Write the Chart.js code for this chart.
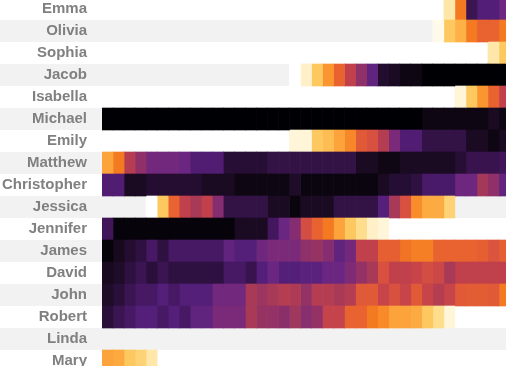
<!DOCTYPE html>
<html>
<head>
<meta charset="utf-8">
<script src="https://cdn.jsdelivr.net/npm/chart.js@4"></script>
<style>
  html, body { margin: 0; padding: 0; overflow: hidden; background: #ffffff; width: 506px; height: 366px; }
  #wrap { position: absolute; left: 0; top: -2px; width: 510px; height: 374px; }
</style>
</head>
<body>
<div id="wrap"><canvas id="c"></canvas></div>
<script>
// ---------------- data ----------------
const names = ["Emma","Olivia","Sophia","Jacob","Isabella","Michael","Emily","Matthew",
  "Christopher","Jessica","Jennifer","James","David","John","Robert","Linda","Mary"];

const years = [1970,1971,1972,1973,1974,1975,1976,1977,1978,1979,1980,1981,1982,1983,1984,
  1985,1986,1987,1988,1989,1990,1991,1992,1993,1994,1995,1996,1997,1998,1999,2000,2001,
  2002,2003,2004,2005,2006];

// first year with a shaded cell, per name
const firstYear = [2001,2000,2005,1987,2002,1970,1987,1970,1970,1974,1970,1970,1970,1970,1970,1970,1970];

// shade value per year (1 = darkest / top, larger = lighter)
const emma = [19.5, 15, 5, 6.7, 6.7, 8.2];
const olivia = [21, 18, 17, 15, 14, 14, 15];
const sophia = [19.5, 18];
const jacob = [22, 20, 18, 16, 14, 12, 10, 7.5, 3.5, 3, 2, 2, 1, 1, 1, 1, 1, 1, 1, 1];
const isabella = [20.5, 18, 16, 14, 12];
const michael = [1, 1, 1, 1, 1, 1, 1, 1, 1, 1, 1, 1, 1, 1, 1, 1, 1, 1, 1, 1, 1, 1, 1, 1, 1, 1, 1, 1, 1,
  2, 2, 2, 2, 2, 2, 3, 2];
const emily = [20.5, 20.5, 18, 17.5, 16.5, 15.5, 13.5, 13, 11.5, 9, 6.5, 6.5, 4.5, 4.5, 4.5, 4.5, 3, 3, 2, 3];
const matthew = [16.5, 15, 11.5, 10, 8.5, 8.5, 8.5, 8, 6.5, 6.5, 6.5, 3.8, 3.8, 3.8, 3.8, 4.5, 4.5, 4.5,
  4.5, 4.5, 4.5, 4.5, 4.5, 3, 3, 2.2, 2.2, 3, 3, 3, 3, 3, 3.8, 4.8, 4.8, 4.8, 5.3];
const christopher = [6.5, 6.5, 3, 3, 3.6, 3.6, 3.6, 3.6, 3.6, 3, 3, 3, 2, 2, 2, 2, 2, 3.3, 1.8, 1.8, 1.8,
  1.8, 1.8, 1.8, 1.8, 3, 3.7, 3.7, 4.3, 6, 6, 6, 8.2, 8.2, 10.8, 10, 7.5];
const jessica = [22, 18, 14, 12, 11, 12, 9.5, 4.5, 4.5, 4.5, 4.5, 3, 3, 1.7, 3, 3, 3, 4.5, 4.5, 4.5, 4.5,
  7, 11, 13, 15.7, 16.8, 16.8, 18.5];
const jennifer = [5.3, 1.5, 1.5, 1.5, 1.5, 1.5, 1.5, 1.5, 1.5, 1.5, 1.5, 1.5, 3, 3, 3, 5.5, 8, 9.5, 12.8,
  14, 15, 16.5, 18, 19, 20, 20.5];
const james = [1.5, 2.8, 3.6, 4.3, 5.8, 4.3, 5.8, 5.8, 5.8, 5.8, 5.8, 7.5, 6.8, 6.8, 8.3, 9, 9, 9, 10, 10.3,
  9.5, 7.5, 8.6, 12, 12, 13.8, 13.8, 14.7, 15.2, 15.2, 14, 14, 14, 14, 13.8, 13.2, 13.8];
const david = [2.8, 3.3, 4.3, 5, 4, 5, 4.3, 4.3, 4.3, 4.3, 4.3, 5.8, 5.8, 4.8, 6.8, 8, 6.8, 6.8, 7.3, 7.3,
  8, 8, 9.2, 10.2, 11, 13, 12, 12, 12.3, 12.8, 12.5, 11, 12, 12, 12, 12, 12];
const john = [3.3, 4, 5, 5.8, 5.8, 6.8, 5.8, 6.8, 6.8, 6.8, 8.5, 8.5, 8.5, 11, 10.5, 11, 11.5, 11.2, 10.2,
  11.5, 11.5, 11, 11.5, 13.5, 13.5, 12.3, 13, 12.3, 13.5, 12.3, 11.5, 12.3, 13.5, 13.7, 13.7, 13.5, 15];
const robert = [4, 5, 5.8, 6.8, 6.8, 5.8, 6.8, 5.8, 7.5, 7.5, 9, 9, 9, 11, 10.3, 10.2, 9.8, 10.7, 9.6, 10.2,
  12.2, 12.2, 14, 14, 15, 15.6, 16.5, 16.5, 16.8, 18, 19, 20.5];
const linda = [];
const mary = [16.5, 16.7, 18, 18.5, 19.5];

const rows = [emma, olivia, sophia, jacob, isabella, michael, emily, matthew, christopher,
  jessica, jennifer, james, david, john, robert, linda, mary];

// ---------------- style ----------------
const palette = ["#000004","#0e0612","#1a0a22","#2a0f3a","#3b1452","#4a1a6a","#55207c","#6a2680",
  "#7a2a78","#8f3068","#a83a58","#c0404c","#d85040","#e8632f","#f47a22","#fa9530","#fdb146",
  "#fdc860","#fedd8c","#fff0c8","#fffaea","#ffffff"];

function hexToRgb(h) {
  return [parseInt(h.slice(1,3),16), parseInt(h.slice(3,5),16), parseInt(h.slice(5,7),16)];
}
function shadeColor(v) {
  const t = Math.max(0, Math.min(palette.length - 1, v - 1));
  const i = Math.floor(t), f = t - i;
  const a = hexToRgb(palette[i]);
  const b = hexToRgb(palette[Math.min(i + 1, palette.length - 1)]);
  const c = a.map((x, k) => Math.round(x + (b[k] - x) * f));
  return `rgb(${c[0]},${c[1]},${c[2]})`;
}

const datasets = years.map(y => {
  const vals = rows.map((r, i) => r[y - firstYear[i]]);
  return {
    data: vals.map(v => (v == null ? null : [y, y + 1])),
    backgroundColor: vals.map(v => (v == null ? "rgba(0,0,0,0)" : shadeColor(v))),
    borderWidth: 0,
    grouped: false,
    barPercentage: 1,
    categoryPercentage: 1
  };
});

const stripes = {
  id: "stripes",
  beforeDraw(chart) {
    const ys = chart.scales.y;
    const ctx = chart.ctx;
    const h = (ys.bottom - ys.top) / names.length;
    ctx.save();
    ctx.fillStyle = "#f2f2f2";
    names.forEach((n, i) => {
      if (i % 2 === 1) {
        const yc = ys.getPixelForValue(i);
        ctx.fillRect(0, yc - h / 2, chart.width, h);
      }
    });
    ctx.restore();
  }
};

new Chart(document.getElementById("c"), {
  type: "bar",
  data: { labels: names, datasets },
  plugins: [stripes],
  options: {
    indexAxis: "y",
    responsive: true,
    maintainAspectRatio: false,
    animation: false,
    layout: { padding: { left: 2, right: 0, top: 0, bottom: 0 } },
    plugins: { legend: { display: false }, tooltip: { enabled: false }, title: { display: false } },
    scales: {
      x: { type: "linear", min: 1970, max: 2007, display: false },
      y: {
        type: "category",
        grid: { display: true, drawOnChartArea: false, drawTicks: true, tickLength: 15, tickColor: "rgba(0,0,0,0)" },
        border: { display: false },
        afterFit(scale) { scale.paddingTop = 0; scale.paddingBottom = 0; },
        ticks: {
          autoSkip: false,
          color: "#808080",
          padding: 0,
          font: { family: "'Liberation Sans', Arial, sans-serif", size: 15, weight: "bold" }
        }
      }
    }
  }
});
</script>
</body>
</html>
